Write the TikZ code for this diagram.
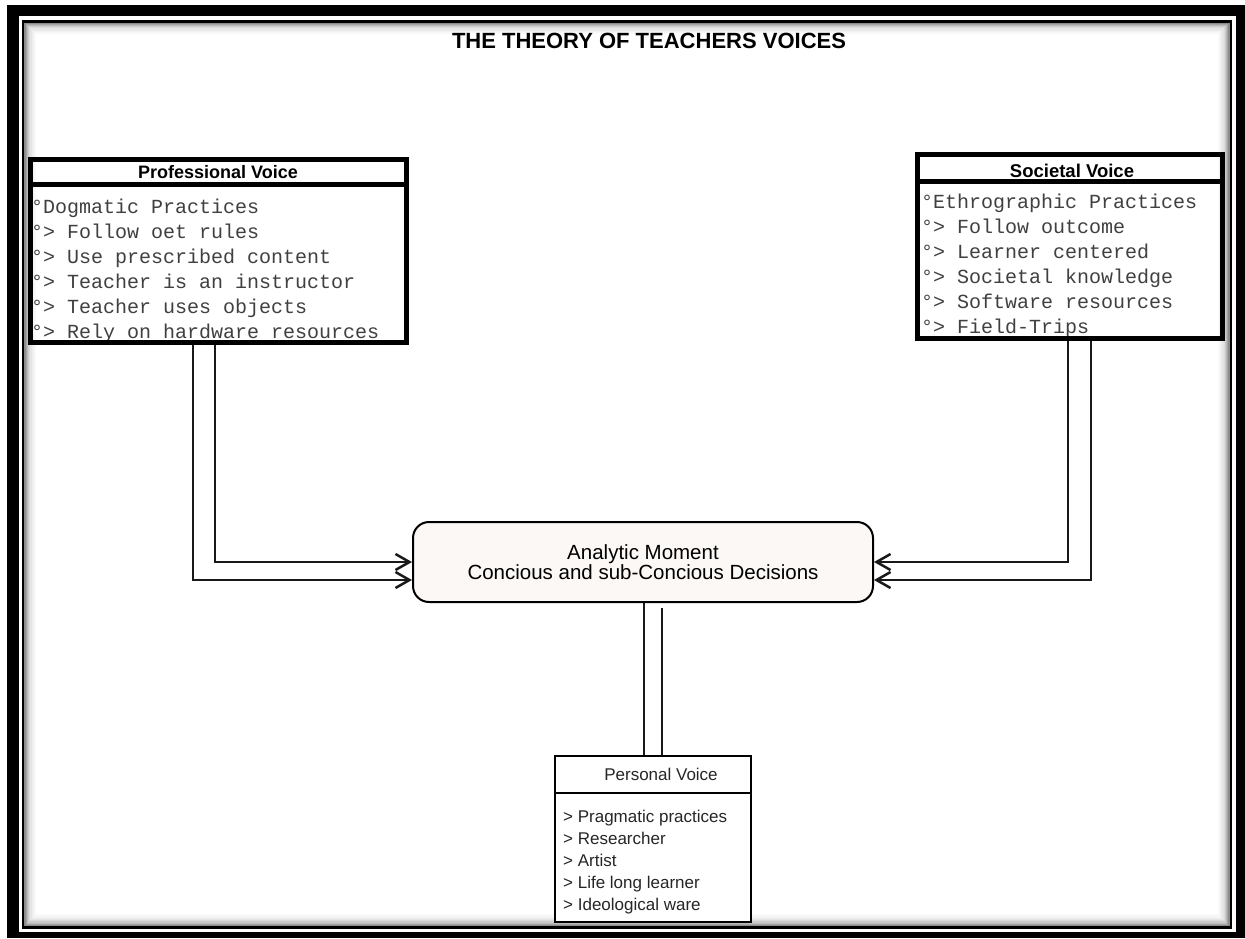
\documentclass[tikz,border=0pt]{standalone}
\usepackage{fontspec}
\setmainfont{Liberation Sans}
\newfontfamily\monof{Liberation Mono}
\usetikzlibrary{arrows.meta,calc}
\definecolor{amfill}{RGB}{251,248,245}
\begin{document}
\begin{tikzpicture}[x=1pt,y=-1pt,
  conn/.style={line width=2.5pt, draw=black!90},
  arr/.style={conn, -{Straight Barb[length=14pt,width=16pt,line width=2.5pt]}},
  vbox/.style={draw, line width=5pt, inner sep=0pt},
  hdr/.style={font=\bfseries\fontsize{18pt}{20pt}\selectfont, inner sep=0pt, anchor=base},
  mono/.style={font=\monof\fontsize{20pt}{25pt}\selectfont, text=black!75, inner sep=0pt, anchor=base west},
  ptext/.style={font=\fontsize{17pt}{20pt}\selectfont, text=black!85, inner sep=0pt, anchor=base west},
]
\useasboundingbox (0,0) rectangle (1245,938);
\fill[white] (0,0) rectangle (1245,938);
% frame
\fill[black] (7,5) rectangle (1245,938);
\fill[white] (19,16) rectangle (1236,932);
\foreach \i/\c in {0/45,1/35,2/27,3/20,4/14,5/10,6/7,7/5,8/3,9/2}
  \draw[black!\c, line width=1.3pt] (25+\i*1.2, 23+\i*1.2) rectangle (1229-\i*1.2, 925.5-\i*1.2);
\draw[line width=2.5pt] (23,21.5) rectangle (1231,927.5);

% title
\node[font=\bfseries\fontsize{22pt}{26pt}\selectfont, anchor=base, inner sep=0pt] (title) at (649,48) {THE THEORY OF TEACHERS VOICES};

% professional voice
\foreach \t [count=\k] in {°Dogmatic Practices, °> Follow oet rules, °> Use prescribed content, °> Teacher is an instructor, °> Teacher uses objects, °> Rely on hardware resources}
  \node[mono] (pv\k) at (31, 188+25*\k) {\t};
\node[vbox, minimum width=376pt, minimum height=183pt] (prof) at (218,251) {};
\draw[line width=5pt] (prof.west |- 0,184) -- (prof.east |- 0,184);
\node[hdr] (profh) at (218,178) {Professional Voice};

% societal voice
\foreach \t [count=\k] in {°Ethrographic Practices, °> Follow outcome, °> Learner centered, °> Societal knowledge, °> Software resources, °> Field-Trips}
  \node[mono] (sv\k) at (921, 183+25*\k) {\t};
\node[vbox, minimum width=305pt, minimum height=184pt] (soc) at (1070,246.5) {};
\draw[line width=5pt] (soc.west |- 0,181.5) -- (soc.east |- 0,181.5);
\node[hdr, font=\bfseries\fontsize{18.5pt}{20pt}\selectfont] (soch) at (1072,177) {Societal Voice};

% personal voice
\node[draw, line width=2.5pt, fill=white, minimum width=196pt, minimum height=166pt, inner sep=0pt] (per) at (653,839) {};
\draw[line width=2.5pt] (per.west |- 0,793) -- (per.east |- 0,793);
\node[font=\fontsize{17pt}{20pt}\selectfont, text=black!85, anchor=base, inner sep=0pt] (perh) at (661,780) {Personal Voice};
\foreach \t [count=\k] in {> Pragmatic practices, > Researcher, > Artist, > Life long learner, > Ideological ware}
  \node[ptext] (pp\k) at (563, 800+22*\k) {\t};

% analytic moment
\node[draw, line width=2pt, rounded corners=16pt, fill=amfill, minimum width=460pt, minimum height=80pt,
      align=center, font=\fontsize{20.5pt}{20.5pt}\selectfont, text=black] (am) at (643,562)
      {Analytic Moment\\Concious and sub-Concious Decisions};

% connectors
\draw[arr] ([xshift=-3pt]prof.south) |- (am.west);
\draw[arr] ([xshift=-25pt]prof.south) |- ([yshift=-18pt]am.west);
\draw[arr] ([xshift=-2pt]soc.south) |- (am.east);
\draw[arr] ([xshift=21pt]soc.south) |- ([yshift=-18pt]am.east);
\draw[conn] ([xshift=1pt]am.south) -- ([xshift=1pt]am.south |- per.north);
\draw[conn] ([xshift=19pt,yshift=-5pt]am.south) -- ([xshift=19pt]am.south |- per.north);
\end{tikzpicture}
\end{document}
